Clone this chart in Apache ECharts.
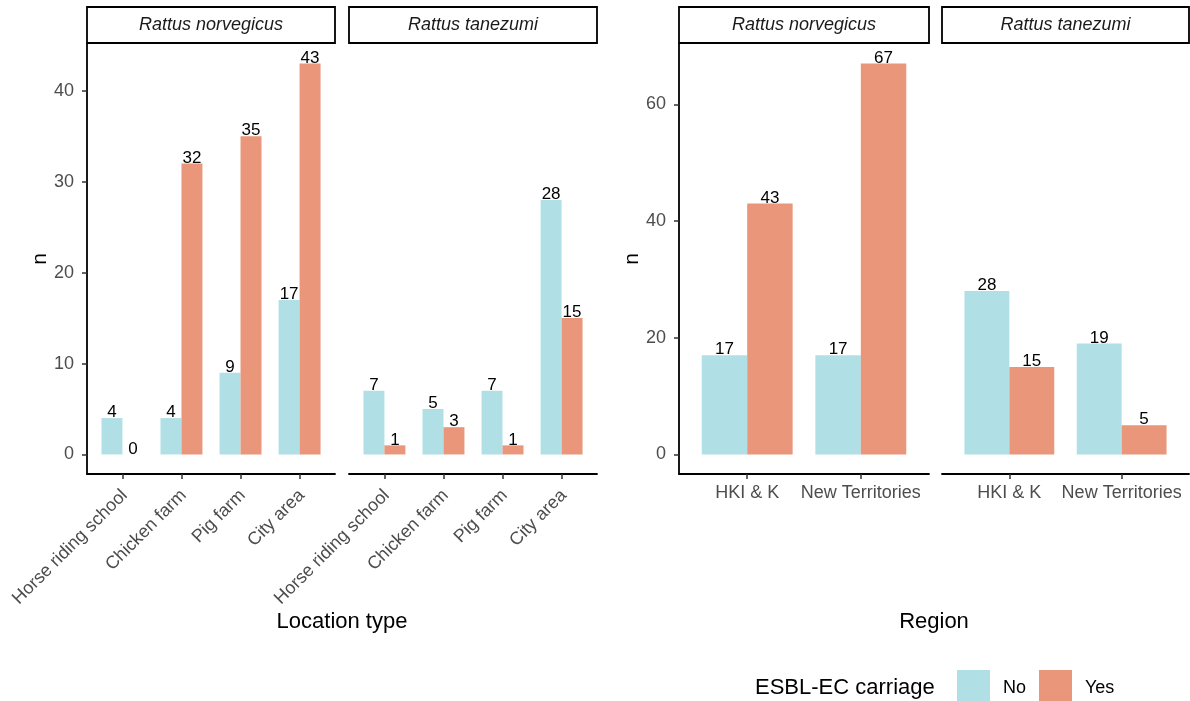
<!DOCTYPE html>
<html>
<head>
<meta charset="utf-8">
<script src="https://cdn.jsdelivr.net/npm/echarts@6/dist/echarts.min.js"></script>
<style>
  html, body { margin: 0; padding: 0; background: #ffffff; }
  #chart { width: 1190px; height: 701px; }
</style>
</head>
<body>
<div id="chart"></div>
<script>
// ---- data ----
const speciesNames = ['Rattus norvegicus', 'Rattus tanezumi'];
const carriageLevels = ['No', 'Yes'];

const locationTypes = ['Horse riding school', 'Chicken farm', 'Pig farm', 'City area'];
const regions = ['HKI & K', 'New Territories'];

// counts by location type
const locNorvegicusNo  = [4, 4, 9, 17];
const locNorvegicusYes = [0, 32, 35, 43];
const locTanezumiNo    = [7, 5, 7, 28];
const locTanezumiYes   = [1, 3, 1, 15];

// counts by region
const regNorvegicusNo  = [17, 17];
const regNorvegicusYes = [43, 67];
const regTanezumiNo    = [28, 19];
const regTanezumiYes   = [15, 5];

// y tick labels
const locTicks = [0, 10, 20, 30, 40];
const regTicks = [0, 20, 40, 60];

// ---- styling ----
const FONT = '"Liberation Sans", Arial, Helvetica, sans-serif';
const COLOR_NO = '#B0E0E6';
const COLOR_YES = '#E9967A';
const TOP = 44, HEIGHT = 430;

const locMax = Math.max(...locNorvegicusNo, ...locNorvegicusYes, ...locTanezumiNo, ...locTanezumiYes);
const regMax = Math.max(...regNorvegicusNo, ...regNorvegicusYes, ...regTanezumiNo, ...regTanezumiYes);

const panels = [
  { left: 87,  width: 248, species: speciesNames[0], cats: locationTypes, no: locNorvegicusNo, yes: locNorvegicusYes, max: locMax, ticks: locTicks, showY: true,  rotate: 45, barW: '35.5%' },
  { left: 349, width: 248, species: speciesNames[1], cats: locationTypes, no: locTanezumiNo,   yes: locTanezumiYes,   max: locMax, ticks: locTicks, showY: false, rotate: 45, barW: '35.5%' },
  { left: 679, width: 250, species: speciesNames[0], cats: regions,       no: regNorvegicusNo, yes: regNorvegicusYes, max: regMax, ticks: regTicks, showY: true,  rotate: 0,  barW: '40%' },
  { left: 942, width: 247, species: speciesNames[1], cats: regions,       no: regTanezumiNo,   yes: regTanezumiYes,   max: regMax, ticks: regTicks, showY: false, rotate: 0,  barW: '40%' }
];

const grids = [], xAxes = [], yAxes = [], series = [], graphics = [];

panels.forEach((p, i) => {
  grids.push({ left: p.left, top: TOP, width: p.width, height: HEIGHT, containLabel: false });

  const positions = p.cats.map((_, j) => j + 1);
  const xLabel = {
    show: true, customValues: positions, rotate: p.rotate,
    formatter: v => p.cats[Math.round(v) - 1],
    color: '#4d4d4d', fontSize: 18, fontFamily: FONT
  };
  if (p.rotate) {
    Object.assign(xLabel, { margin: 8, align: 'right', verticalAlign: 'top', padding: [0, 6, 0, 0] });
  } else {
    xLabel.margin = 10;
  }
  xAxes.push({
    type: 'value', gridIndex: i,
    min: 0.4, max: p.cats.length + 0.6,
    axisLine: { show: true, onZero: false, lineStyle: { color: '#000', width: 1.8 } },
    axisTick: { show: true, customValues: positions, length: 5, lineStyle: { color: '#333', width: 1.5 } },
    axisLabel: xLabel,
    splitLine: { show: false }
  });

  yAxes.push({
    type: 'value', gridIndex: i, show: p.showY,
    min: -0.05 * p.max, max: 1.05 * p.max,
    axisLine: { show: true, onZero: false, lineStyle: { color: '#000', width: 1.8 } },
    axisTick: { show: true, customValues: p.ticks, length: 5, lineStyle: { color: '#333', width: 1.5 } },
    axisLabel: { show: true, customValues: p.ticks, margin: 13, color: '#4d4d4d', fontSize: 18, fontFamily: FONT },
    splitLine: { show: false }
  });

  const label = { show: true, position: 'top', distance: -3, color: '#000', fontSize: 17, fontFamily: FONT };
  [[carriageLevels[0], p.no, COLOR_NO], [carriageLevels[1], p.yes, COLOR_YES]].forEach(([name, vals, color]) => {
    series.push({
      type: 'bar', name, xAxisIndex: i, yAxisIndex: i,
      data: vals.map((v, j) => [positions[j], v]),
      barWidth: p.barW, barGap: '0%',
      itemStyle: { color },
      label,
      emphasis: { disabled: true },
      animation: false
    });
  });

  // facet strip
  graphics.push({
    type: 'rect', silent: true,
    shape: { x: p.left, y: 7, width: p.width, height: 36 },
    style: { fill: '#fff', stroke: '#000', lineWidth: 1.8 }
  });
  graphics.push({
    type: 'text', silent: true,
    x: p.left + p.width / 2, y: 25,
    style: { text: p.species, fill: '#1a1a1a', font: 'italic 18px ' + FONT, align: 'center', verticalAlign: 'middle' }
  });

  // y axis title
  if (p.showY) {
    graphics.push({
      type: 'text', silent: true,
      x: p.left - 47, y: TOP + HEIGHT / 2, rotation: Math.PI / 2,
      style: { text: 'n', fill: '#000', font: '21px ' + FONT, align: 'center', verticalAlign: 'middle' }
    });
  }
});

// x axis titles
graphics.push({
  type: 'text', silent: true, x: (panels[0].left + panels[1].left + panels[1].width) / 2, y: 622,
  style: { text: 'Location type', fill: '#000', font: '22px ' + FONT, align: 'center', verticalAlign: 'middle' }
});
graphics.push({
  type: 'text', silent: true, x: (panels[2].left + panels[3].left + panels[3].width) / 2, y: 622,
  style: { text: 'Region', fill: '#000', font: '22px ' + FONT, align: 'center', verticalAlign: 'middle' }
});
// legend title
graphics.push({
  type: 'text', silent: true, x: 755, y: 688,
  style: { text: 'ESBL-EC carriage', fill: '#000', font: '22px ' + FONT, align: 'left', verticalAlign: 'middle' }
});

const chart = echarts.init(document.getElementById('chart'), null, { renderer: 'canvas' });
chart.setOption({
  backgroundColor: '#fff',
  animation: false,
  grid: grids,
  xAxis: xAxes,
  yAxis: yAxes,
  series,
  legend: {
    data: carriageLevels,
    left: 957, top: 670, padding: 0,
    itemWidth: 33, itemHeight: 36, itemGap: 13,
    icon: 'rect',
    selectedMode: false,
    textStyle: { color: '#000', fontSize: 18, fontFamily: FONT, padding: [0, 0, 0, 8] }
  },
  graphic: { elements: graphics }
});
</script>
</body>
</html>
